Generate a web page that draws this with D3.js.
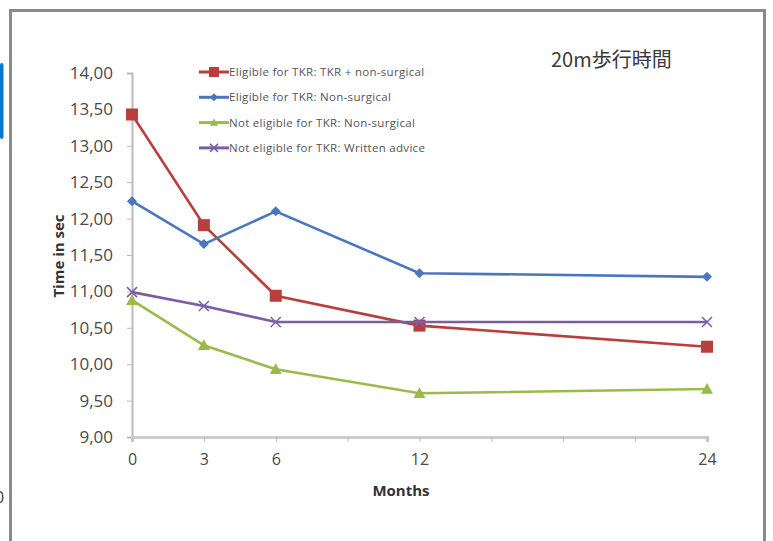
<!DOCTYPE html>
<html>
<head>
<meta charset="utf-8">
<script src="https://cdn.jsdelivr.net/npm/d3@7"></script>
<style>
  body { margin: 0; background: #fff; }
  svg { display: block; }
</style>
</head>
<body>
<svg id="chart" width="773" height="541"></svg>
<script>
// months on the x axis
var months = [0, 3, 6, 12, 24];
var monthTicks = [0, 3, 6, 9, 12, 15, 18, 21, 24];
var monthLabels = [0, 3, 6, 12, 24];
var yTicks = [9, 9.5, 10, 10.5, 11, 11.5, 12, 12.5, 13, 13.5, 14];

var seriesNames = [
  "Eligible for TKR: TKR + non-surgical",
  "Eligible for TKR: Non-surgical",
  "Not eligible for TKR: Non-surgical",
  "Not eligible for TKR: Written advice"
];
var tkrSurgical = [13.43, 11.91, 10.94, 10.53, 10.24];
var tkrNonSurgical = [12.24, 11.65, 12.10, 11.25, 11.20];
var notNonSurgical = [10.88, 10.26, 9.93, 9.60, 9.66];
var notWritten = [10.99, 10.80, 10.58, 10.58, 10.58];

var colors = ["#b83f3c", "#4a76c0", "#9abb4a", "#7b5da6"];
var markers = ["square", "diamond", "triangle", "cross"];

var svg = d3.select("#chart");

// outer frame + page leftovers
svg.append("rect").attr("x", 0).attr("y", 63).attr("width", 3.5).attr("height", 76)
  .attr("rx", 2).attr("fill", "#0a76cc");
svg.append("rect").attr("x", 10.5).attr("y", 10.5).attr("width", 754).attr("height", 545)
  .attr("fill", "none").attr("stroke", "#8a8a8a").attr("stroke-width", 3);
svg.append("text").attr("x", -5).attr("y", 503).attr("font-family", "Noto Sans")
  .attr("font-size", 16).attr("fill", "#444").text("0");

var x = d3.scaleLinear().domain([0, 24]).range([132, 707]);
var y = d3.scaleLinear().domain([9, 14]).range([437, 73]);

// y axis
var yAxis = svg.append("g").attr("transform", "translate(132,0)")
  .call(d3.axisLeft(y).tickValues(yTicks).tickSize(5).tickPadding(14)
    .tickFormat(function(d) { return d3.format(".2f")(d).replace(".", ","); }));
yAxis.select(".domain").attr("stroke", "#bbb").attr("stroke-width", 2);
yAxis.selectAll(".tick line").attr("stroke", "#bbb");
yAxis.selectAll("text").attr("font-family", "Open Sans").attr("font-size", 17)
  .attr("fill", "#4a4a4a");

// x axis
var xAxis = svg.append("g").attr("transform", "translate(0,437)")
  .call(d3.axisBottom(x).tickValues(monthTicks).tickSize(5).tickPadding(12)
    .tickFormat(function(d) { return monthLabels.indexOf(d) >= 0 ? d : ""; }));
xAxis.select(".domain").attr("stroke", "#ccc").attr("stroke-width", 3);
xAxis.selectAll(".tick line").attr("stroke", "#bbb");
xAxis.selectAll("text").attr("font-family", "Open Sans").attr("font-size", 16)
  .attr("fill", "#4a4a4a");

svg.append("text").attr("x", 401).attr("y", 496).attr("text-anchor", "middle")
  .attr("font-family", "Open Sans").attr("font-weight", "bold").attr("font-size", 15)
  .attr("fill", "#333").text("Months");
svg.append("text").attr("transform", "translate(64,256) rotate(-90)")
  .attr("text-anchor", "middle").attr("font-family", "Open Sans")
  .attr("font-weight", "bold").attr("font-size", 15).attr("fill", "#333")
  .text("Time in sec");

svg.append("text").attr("x", 551).attr("y", 67)
  .attr("font-family", "Noto Sans CJK JP").attr("font-size", 20)
  .attr("fill", "#3a3a3a").text("20m歩行時間");

function drawMarker(g, kind, color, cx, cy, s) {
  if (kind == "square") {
    g.append("rect").attr("x", cx - s).attr("y", cy - s).attr("width", 2 * s)
      .attr("height", 2 * s).attr("fill", color);
  } else if (kind == "diamond") {
    g.append("path").attr("d", "M" + cx + "," + (cy - s) + "L" + (cx + s) + "," + cy +
      "L" + cx + "," + (cy + s) + "L" + (cx - s) + "," + cy + "Z").attr("fill", color);
  } else if (kind == "triangle") {
    g.append("path").attr("d", "M" + cx + "," + (cy - s) + "L" + (cx + s) + "," + (cy + s * 0.8) +
      "L" + (cx - s) + "," + (cy + s * 0.8) + "Z").attr("fill", color);
  } else {
    g.append("path").attr("d", "M" + (cx - s) + "," + (cy - s) + "L" + (cx + s) + "," + (cy + s) +
      "M" + (cx - s) + "," + (cy + s) + "L" + (cx + s) + "," + (cy - s))
      .attr("stroke", color).attr("stroke-width", 1.5).attr("fill", "none");
  }
}

var allSeries = [tkrSurgical, tkrNonSurgical, notNonSurgical, notWritten];
var sizes = [6, 5, 6, 5];
var line = d3.line().x(function(d) { return x(d[0]); }).y(function(d) { return y(d[1]); });

allSeries.forEach(function(vals, i) {
  var pts = months.map(function(m, j) { return [m, vals[j]]; });
  var g = svg.append("g");
  g.append("path").datum(pts).attr("d", line).attr("fill", "none")
    .attr("stroke", colors[i]).attr("stroke-width", 2.6);
  pts.forEach(function(p) {
    drawMarker(g, markers[i], colors[i], x(p[0]), y(p[1]), sizes[i]);
  });
});

// legend
seriesNames.forEach(function(name, i) {
  var ly = 72 + i * 25.3;
  var g = svg.append("g");
  g.append("line").attr("x1", 199).attr("x2", 229).attr("y1", ly).attr("y2", ly)
    .attr("stroke", colors[i]).attr("stroke-width", 3);
  drawMarker(g, markers[i], colors[i], 214, ly, i == 0 ? 5 : 4);
  g.append("text").attr("x", 229).attr("y", ly + 4).attr("font-family", "Open Sans")
    .attr("font-size", 11.5).attr("letter-spacing", 0.3).attr("fill", "#555").text(name);
});
</script>
</body>
</html>
